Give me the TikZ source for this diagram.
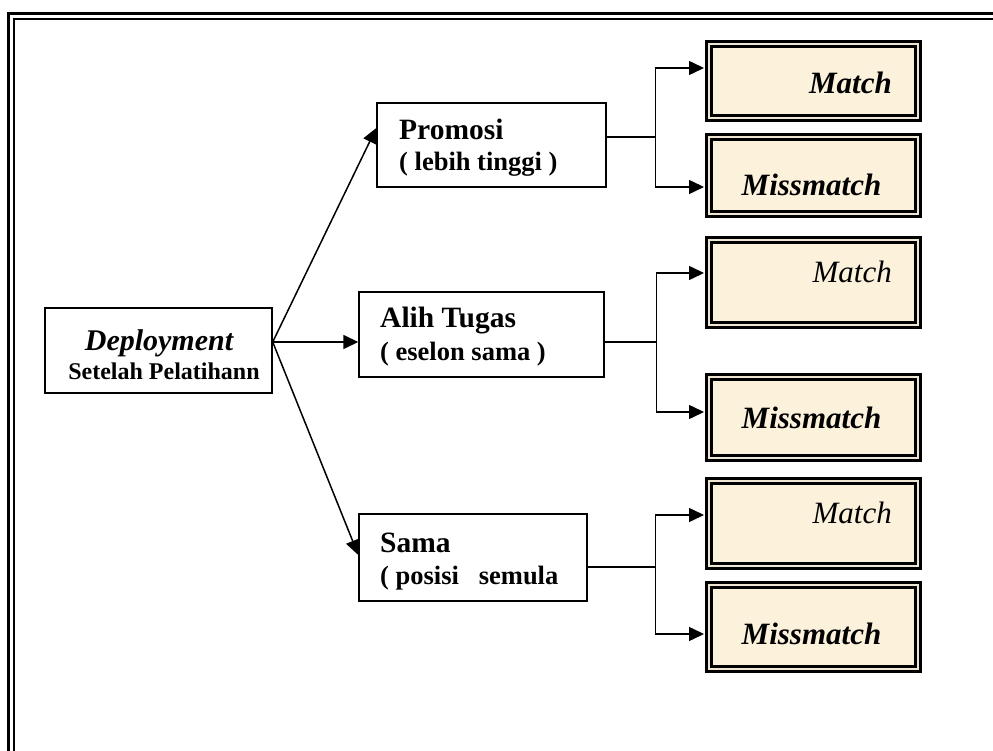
\documentclass[tikz,border=0pt]{standalone}
\usepackage{fontspec}
\setmainfont{Liberation Serif}
\usepackage{xcolor}
\usepackage{tikz}
\usetikzlibrary{positioning,calc,arrows.meta}
\definecolor{cream}{RGB}{252,242,220}
\definecolor{creamgap}{RGB}{238,229,210}
\tikzset{
  frameln/.style  = {draw=black, line width=2.6pt},
  box/.style      = {draw=black, fill=white, line width=1.4pt, inner sep=0pt},
  res/.style      = {draw=black, line width=2.8pt, double=creamgap, double distance=2pt, fill=cream, inner sep=0pt, minimum width=209pt},
  link/.style     = {draw=black, line width=1.5pt},
  arr/.style      = {link, -{Triangle[length=15pt,width=14pt]}},
  arrres/.style   = {arr, shorten >=3.6pt},
  hd/.style       = {font=\fontsize{29.5}{34}\selectfont\bfseries, inner sep=0pt, anchor=base west},
  subln/.style    = {font=\fontsize{26.5}{30}\selectfont\bfseries, inner sep=0pt, anchor=base west},
  mbold/.style    = {font=\fontsize{31}{36}\selectfont\bfseries\itshape, inner sep=0pt},
  mreg/.style     = {font=\fontsize{31}{36}\selectfont\itshape, inner sep=0pt},
}

\begin{document}
\begin{tikzpicture}[x=1pt,y=-1pt]
  \useasboundingbox (0,0) rectangle (993,751);

  % page frame
  \draw[frameln] (8.7,751) -- (8.7,13.5) -- (993,13.5);
  \draw[frameln, line width=2.4pt] (14,751) -- (14,18.8) -- (993,18.8);

  % source
  \node[box, minimum width=227pt, minimum height=85pt] (dep) at (158.5,350.5) {};
  \node[font=\fontsize{30}{34}\selectfont\bfseries\itshape, inner sep=0pt, anchor=base] (tdep1) at (159,350) {Deployment};
  \node[font=\fontsize{24}{28}\selectfont\bfseries, inner sep=0pt, anchor=base] (tdep2) at (164,379) {Setelah Pelatihann};
  \coordinate (dfork) at ([yshift=8.5pt]dep.east);

  % positions after training
  \node[box, minimum width=229pt, minimum height=84pt] (pro) at (491.5,145) {};
  \node[hd] (tpro1) at (399,140) {Promosi};
  \node[subln] (tpro2) at (399,171) {( lebih tinggi )};

  \node[box, minimum width=245pt, minimum height=85pt] (alih) at (481.5,334.5) {};
  \node[hd] (talih1) at (380,327) {Alih Tugas};
  \node[subln] (talih2) at (380,360) {( eselon sama )};

  \node[box, minimum width=228pt, minimum height=87pt] (sama) at (473,557.5) {};
  \node[hd] (tsama1) at (380,552) {Sama};
  \node[subln] (tsama2) at (380,584) {( posisi~~ semula};

  % outcomes
  \node[res, minimum height=74.4pt] (m1) at (813.5,81) {};
  \node[res, minimum height=77.4pt] (x1) at (813.5,175.5) {};
  \node[res, minimum height=85.4pt] (m2) at (813.5,282.5) {};
  \node[res, minimum height=81.4pt] (x2) at (813.5,417.5) {};
  \node[res, minimum height=85.4pt] (m3) at (813.5,523.5) {};
  \node[res, minimum height=84.4pt] (x3) at (813.5,627) {};

  \node[mbold, anchor=base east] (tm1) at (892,94) {Match};
  \node[mbold, anchor=base] (tx1) at (811.5,196) {Missmatch};
  \node[mreg, anchor=base east] (tm2) at (892,283) {Match};
  \node[mbold, anchor=base] (tx2) at (811.5,428) {Missmatch};
  \node[mreg, anchor=base east] (tm3) at (892,523) {Match};
  \node[mbold, anchor=base] (tx3) at (811.5,644) {Missmatch};

  % connectors from source
  \draw[arr] (dfork) -- ([yshift=17pt]pro.west);
  \draw[arr] (dfork) -- (dfork -| alih.west);
  \draw[arr] (dfork) -- ([yshift=2.5pt]sama.west);

  % branches to outcomes
  \draw[link] ([yshift=8pt]pro.east) -- ++(49,0) coordinate (pj);
  \draw[arrres] (pj) |- ([yshift=13pt]m1.west);
  \draw[arrres] (pj) |- ([yshift=-11.5pt]x1.west);

  \draw[link] ([yshift=-7.5pt]alih.east) -- ++(52,0) coordinate (aj);
  \draw[arrres] (aj) |- ([yshift=9.5pt]m2.west);
  \draw[arrres] (aj) |- ([yshift=5.5pt]x2.west);

  \draw[link] ([yshift=-9.5pt]sama.east) -- ++(68,0) coordinate (sj);
  \draw[arrres] (sj) |- ([yshift=8.5pt]m3.west);
  \draw[arrres] (sj) |- ([yshift=-7pt]x3.west);
\end{tikzpicture}
\end{document}
